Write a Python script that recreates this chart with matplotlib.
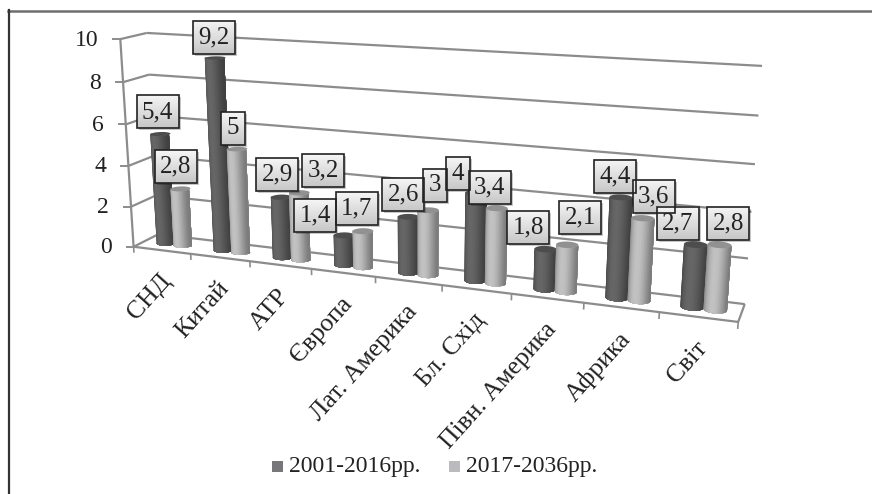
import matplotlib
matplotlib.use('Agg')
import matplotlib.pyplot as plt
import numpy as np
from matplotlib.patches import Rectangle, Polygon

categorias = ['СНД', 'Китай', 'АТР', 'Європа', 'Лат. Америка', 'Бл. Схід', 'Півн. Америка', 'Африка', 'Світ']
serie_2001 = [5.4, 9.2, 2.9, 1.4, 2.6, 4, 1.8, 4.4, 2.7]
serie_2017 = [2.8, 5, 3.2, 1.7, 3, 3.4, 2.1, 3.6, 2.8]
rotulos_2001 = ['5,4', '9,2', '2,9', '1,4', '2,6', '4', '1,8', '4,4', '2,7']
rotulos_2017 = ['2,8', '5', '3,2', '1,7', '3', '3,4', '2,1', '3,6', '2,8']
ticks_y = [0, 2, 4, 6, 8, 10]
nomes_series = ['2001-2016рр.', '2017-2036рр.']

# deslocamento manual dos rotulos (pixels)
desloc_2001 = [(-2, 0), (0, 2), (-3, -1), (-28, 2), (-4, 0), (-17, 3), (-16, 0), (-5, 1), (-17, 1)]
desloc_2017 = [(-4, 0), (-3, 1), (25, 0), (-5, -1), (8, -3), (-6, 1), (14, -5), (12, 0), (10, 1)]

plt.rcParams['font.family'] = ['Liberation Serif', 'DejaVu Serif']
W, H = 872, 494
fig = plt.figure(figsize=(W / 100, H / 100), dpi=100)
ax = fig.add_axes([0, 0, 1, 1])
ax.set_xlim(0, W)
ax.set_ylim(H, 0)
ax.axis('off')

# moldura
ax.plot([8, W], [11, 11], color='#6e6e6e', lw=1.8, zorder=1)
ax.plot([8.5, 8.5], [10, H], color='#333333', lw=1.6, zorder=1)

# calibragem da projecao: cantos da caixa 3D (x, profundidade, valor) -> pixel
n = len(categorias)
cantos = [
    ((0, 0, 0), (135, 246)), ((0, 0, 10), (119, 39)),
    ((0, 1, 0), (157, 235)), ((0, 1, 10), (148, 33)),
    ((n, 1, 0), (745, 303)), ((n, 1, 10), (762, 66)),
    ((n, 0, 0), (738, 323)),
]
A = []
b = []
for (x, d, v), (px, py) in cantos:
    A.append([x, d, v, 1, 0, 0, 0, 0, -px * x, -px * d, -px * v])
    A.append([0, 0, 0, 0, x, d, v, 1, -py * x, -py * d, -py * v])
    b += [px, py]
sol = np.linalg.lstsq(np.array(A, float), np.array(b, float), rcond=None)[0]
P = np.append(sol, 1).reshape(3, 4)


def projeta(x, d, v):
    x, d, v = np.broadcast_arrays(x, d, v)
    pts = np.stack([x, d, v, np.ones_like(x, dtype=float)])
    u = P @ pts
    return u[0] / u[2], u[1] / u[2]


def linha3d(p0, p1, cor='#8c8c8c', lw=1.6):
    xs, ys = projeta(*np.array([p0, p1], float).T)
    ax.plot(xs, ys, color=cor, lw=lw, zorder=1, solid_capstyle='butt')


# paredes e grades
for t in ticks_y:
    linha3d((0, 0, t), (0, 1, t))
    linha3d((0, 1, t), (n, 1, t))
    xs, ys = projeta(0, 0, t)
    ax.plot([xs - 7, xs], [ys, ys], color='#8c8c8c', lw=1.4, zorder=1)
    ax.text(float(xs) - 22, float(ys) + 1, str(t), ha='right', va='center', fontsize=17, color='#222222')
linha3d((0, 0, 0), (0, 0, 10))
linha3d((n, 0, 0), (n, 1, 0))
linha3d((0, 0, 0), (n, 0, 0))
for i in range(n + 1):
    linha3d((i, 0, 0), (i, 0, -0.3), lw=1.2)


def cilindro(cx, valor, base, zorder):
    r = 0.15
    dc = 0.5
    rd = 0.21
    ang = np.linspace(np.pi, 0, 25)
    bx, by = projeta(cx + r * np.cos(ang), dc - rd * np.sin(ang), 0)
    tx, ty = projeta(cx + r * np.cos(ang), dc - rd * np.sin(ang), valor)
    # cada faixa cobre do seu angulo ate a borda direita: assim nao aparecem emendas
    for k in range(len(ang) - 1):
        m = 0.5 * (ang[k] + ang[k + 1])
        brilho = 0.64 + 0.36 * np.sin(m - 0.15) ** 2
        cor = np.clip(np.array(base) * brilho, 0, 1)
        contorno = np.column_stack([np.r_[bx[k:], tx[k:][::-1]], np.r_[by[k:], ty[k:][::-1]]])
        ax.add_patch(Polygon(contorno, closed=True, facecolor=cor, edgecolor='none', zorder=zorder + k * 0.001))
    # tampa
    ang2 = np.linspace(0, 2 * np.pi, 50)
    cxs, cys = projeta(cx + r * np.cos(ang2), dc + rd * np.sin(ang2), valor)
    ax.add_patch(Polygon(np.column_stack([cxs, cys]), closed=True,
                         facecolor=np.array(base) * 0.75, edgecolor='none', zorder=zorder + 0.1))


base_escura = (0.40, 0.40, 0.40)
base_clara = (0.76, 0.76, 0.76)
centro = 0.515
for i in range(n):
    cilindro(i + centro - 0.15, serie_2001[i], base_escura, 3 + i)
    cilindro(i + centro + 0.15, serie_2017[i], base_clara, 3.3 + i)


def rotulo(cx, valor, texto, dx, dy):
    px, py = projeta(cx, 0.5, valor)
    px = float(px) + dx
    py = float(py) - 22 + dy
    w = 42 if len(texto) > 1 else 24
    h = 33
    ax.add_patch(Rectangle((px - w / 2 + 2, py - h / 2 + 2), w, h, facecolor='black', alpha=0.22,
                           edgecolor='none', zorder=20))
    grad = np.linspace(0.96, 0.78, 32).reshape(-1, 1)
    ax.imshow(grad, extent=(px - w / 2, px + w / 2, py + h / 2, py - h / 2), cmap='gray', vmin=0, vmax=1,
              aspect='auto', zorder=21)
    ax.add_patch(Rectangle((px - w / 2, py - h / 2), w, h, facecolor='none', edgecolor='#222222', lw=1.2, zorder=22))
    ax.text(px, py, texto, ha='center', va='center', fontsize=18, color='#222222', zorder=23)


for i in range(n):
    rotulo(i + 0.5 - 0.15, serie_2001[i], rotulos_2001[i], *desloc_2001[i])
    rotulo(i + 0.5 + 0.15, serie_2017[i], rotulos_2017[i], *desloc_2017[i])

# rotulos das categorias
for i, nome in enumerate(categorias):
    px, py = projeta(i + 0.5, 0, 0)
    ax.text(float(px) - 3, float(py) + 20, nome, rotation=48, rotation_mode='anchor', ha='right', va='top',
            fontsize=18.5, color='#222222')

# legenda
ax.add_patch(Rectangle((272, 461), 11, 11, facecolor='#77777b', edgecolor='none'))
ax.text(289, 466, nomes_series[0], ha='left', va='center', fontsize=17, color='#222222')
ax.add_patch(Rectangle((449, 461), 11, 11, facecolor='#bbbbbf', edgecolor='none'))
ax.text(466, 466, nomes_series[1], ha='left', va='center', fontsize=17, color='#222222')

ax.set_xlim(0, W)
ax.set_ylim(H, 0)
fig.savefig('out.png', dpi=100)
